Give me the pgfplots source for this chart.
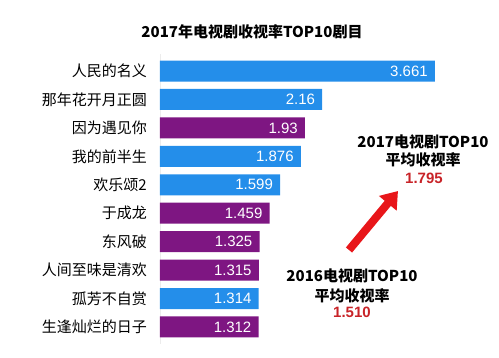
\documentclass[border=0pt]{standalone}
\usepackage{pgfplots}
\pgfplotsset{compat=1.18}
\usepackage{fontspec}
\setmainfont{Liberation Sans}
\newfontfamily\cjk{Noto Sans CJK SC}
\usetikzlibrary{arrows.meta}
\definecolor{barblue}{RGB}{36,142,234}
\definecolor{barpurple}{RGB}{126,22,130}
\definecolor{arrowred}{RGB}{232,22,26}
\definecolor{valred}{RGB}{200,35,40}
\begin{document}
\begin{tikzpicture}
\useasboundingbox (0pt,0pt) rectangle (499pt,357pt);
\begin{axis}[
  at={(160pt,13pt)}, anchor=south west,
  scale only axis, width=310pt, height=290pt,
  xbar, bar width=21pt,
  xmin=0, xmax=4.128,
  ymin=-0.6, ymax=9.6, y dir=reverse,
  ytick={0,...,9},
  yticklabels={人民的名义,那年花开月正圆,因为遇见你,我的前半生,欢乐颂2,于成龙,东风破,人间至味是清欢,孤芳不自赏,生逢灿烂的日子},
  yticklabel style={font=\cjk\fontsize{15}{18}\selectfont, inner sep=0pt, xshift=-13pt},
  major tick length=0pt,
  xtick=\empty,
  axis x line=none, axis y line*=left,
  y axis line style={draw=gray!15, -},
  nodes near coords, point meta=explicit symbolic,
  every node near coord/.append style={anchor=east, inner sep=0pt, xshift=-7pt, text=white, font=\fontsize{15}{15}\selectfont},
  clip=false,
]
\addplot[fill=barblue, draw=none, bar shift=0pt] coordinates {(3.661,0)[3.661] (2.16,1)[2.16] (1.876,3)[1.876] (1.599,4)[1.599] (1.314,8)[1.314]};
\addplot[fill=barpurple, draw=none, bar shift=0pt] coordinates {(1.93,2)[1.93] (1.459,5)[1.459] (1.325,6)[1.325] (1.315,7)[1.315] (1.312,9)[1.312]};
\end{axis}
\node[font=\cjk\bfseries\fontsize{15}{15}\selectfont] at (252pt,325pt) {2017年电视剧收视率TOP10剧目};
\draw[arrowred, line width=8pt, -{Triangle[width=22pt,length=16pt]}] (349pt,107pt) -- (398pt,166pt);
\node[font=\cjk\bfseries\fontsize{15}{15}\selectfont] at (423pt,215pt) {2017电视剧TOP10};
\node[font=\cjk\bfseries\fontsize{15}{15}\selectfont] at (423pt,197pt) {平均收视率};
\node[text=valred, font=\bfseries\fontsize{15}{15}\selectfont] at (424pt,179pt) {1.795};
\node[font=\cjk\bfseries\fontsize{15}{15}\selectfont] at (352pt,81pt) {2016电视剧TOP10};
\node[font=\cjk\bfseries\fontsize{15}{15}\selectfont] at (352pt,61pt) {平均收视率};
\node[text=valred, font=\bfseries\fontsize{15}{15}\selectfont] at (352pt,45pt) {1.510};
\end{tikzpicture}
\end{document}
